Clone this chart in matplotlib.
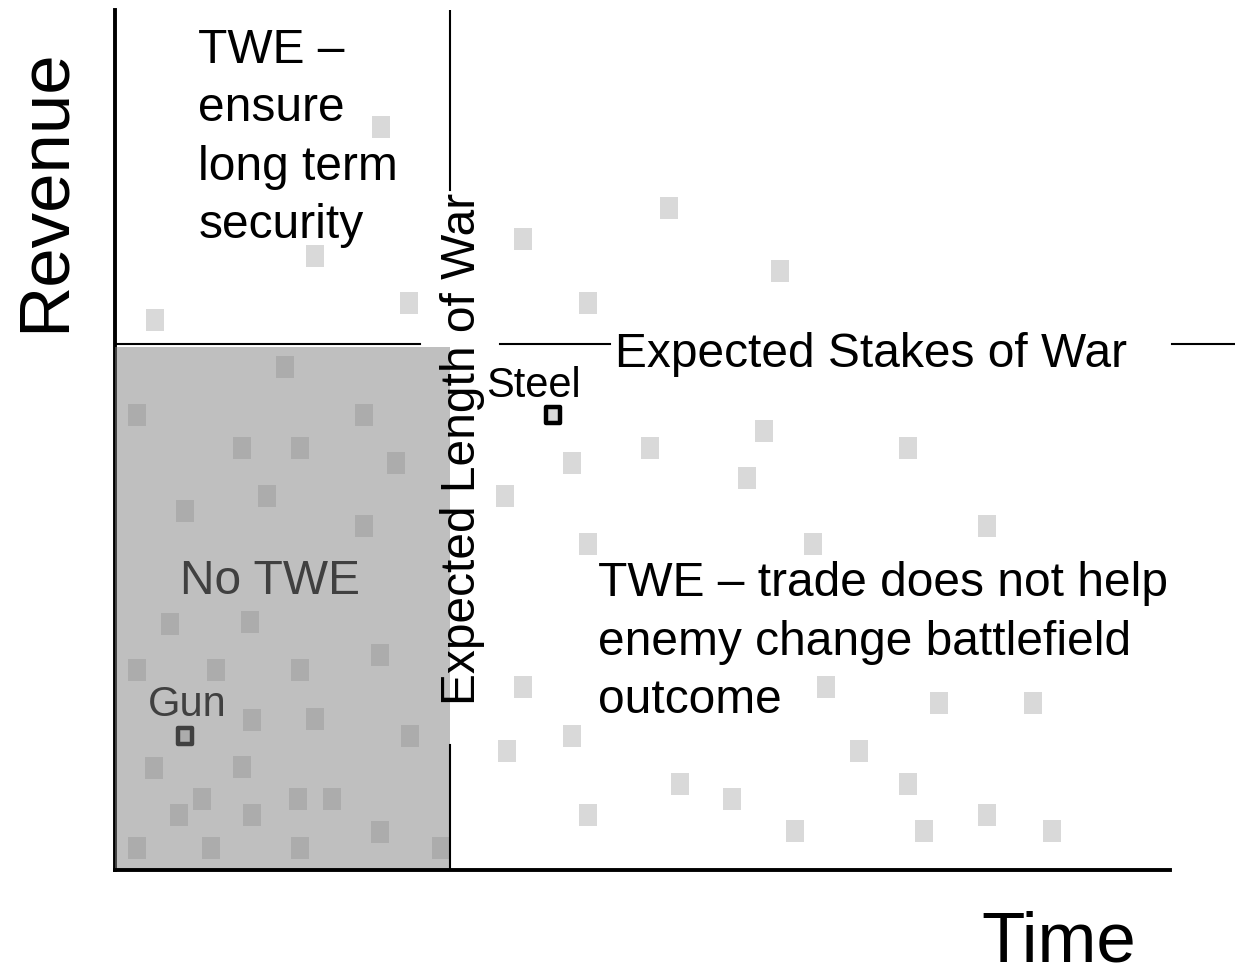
import matplotlib
matplotlib.use('Agg')

import matplotlib.pyplot as plt
from matplotlib.patches import Rectangle
from matplotlib.path import Path

plt.rcParams['font.family'] = ['Liberation Sans', 'DejaVu Sans']

# goods scattered over time (x) and revenue (y), both 0-100
good_x = [25.2, 19.0, 27.9, 3.8,
          52.5, 38.7, 63.0, 44.8,
          50.7, 61.5, 75.2, 43.3, 59.9, 37.0, 82.7, 44.8, 66.2,
          38.7, 67.4, 78.1, 87.0, 43.3, 37.2, 70.5, 53.6, 75.2, 58.5,
          44.8, 82.7, 64.5, 76.7, 88.8,
          16.1, 2.1, 23.6, 12.0, 17.5, 26.6, 14.4, 6.6, 23.6,
          5.2, 12.8, 25.1, 2.1, 9.6, 17.5, 13.0, 19.0, 28.0,
          3.7, 12.0, 8.2, 17.3, 20.6, 6.1, 13.0, 25.1, 2.1, 9.1, 17.5, 30.9]
good_y = [86.4, 71.4, 65.9, 64.0,
          77.0, 73.4, 69.7, 65.9,
          49.1, 51.0, 49.1, 47.3, 45.6, 43.5, 40.0, 37.9, 37.9,
          21.3, 21.3, 19.4, 19.4, 15.6, 13.8, 13.8, 10.0, 10.0, 8.3,
          6.4, 6.4, 4.5, 4.5, 4.5,
          58.5, 52.9, 52.9, 49.1, 49.1, 47.3, 43.5, 41.7, 40.0,
          28.6, 28.8, 25.0, 23.3, 23.3, 23.3, 17.4, 17.6, 15.6,
          11.9, 12.0, 8.3, 8.3, 8.3, 6.4, 6.4, 4.4, 2.6, 2.6, 2.6, 2.6]

# the two named goods
named_labels = ['Gun', 'Steel']
named_x = [6.6, 41.5]
named_y = [15.6, 52.9]

expected_length = 31.8   # time
expected_stakes = 61.2   # revenue

# rectangle marker, a bit taller than wide
box = Path([(-0.45, -0.5), (0.45, -0.5), (0.45, 0.5), (-0.45, 0.5), (-0.45, -0.5)],
           [Path.MOVETO, Path.LINETO, Path.LINETO, Path.LINETO, Path.CLOSEPOLY])

fig = plt.figure(figsize=(12.35, 9.76), dpi=100)
ax = fig.add_axes([115 / 1235, 106 / 976, 1055 / 1235, 860 / 976])
ax.set_xlim(0, 100)
ax.set_ylim(0, 100)
ax.set_xticks([])
ax.set_yticks([])
for side in ['top', 'right']:
    ax.spines[side].set_visible(False)
ax.spines['left'].set_linewidth(2.8)
ax.spines['bottom'].set_linewidth(2.8)
ax.spines['left'].set_zorder(2.5)
ax.spines['bottom'].set_zorder(6)

ax.scatter(good_x, good_y, marker=box, s=230, color='#d9d9d9', linewidths=0, zorder=2)
ax.scatter(named_x, named_y, marker=box, s=120, facecolor='#d9d9d9',
           edgecolor='black', linewidths=3.2, zorder=3)

offsets = {'Gun': (2, 14), 'Steel': (-14, 13)}
for lab, x, y in zip(named_labels, named_x, named_y):
    ax.annotate(lab, (x, y), xytext=offsets[lab], textcoords='offset points',
                ha='center', va='baseline', fontsize=30, color='black', zorder=3)

ax.text(14.7, 32.1, 'No TWE', ha='center', va='baseline', fontsize=34.5, zorder=3)

# shaded "No TWE" region: short war, low stakes (starts a hair left to cover the axis)
ax.add_patch(Rectangle((-0.25, 0), expected_length + 0.25, expected_stakes - 0.4,
                       facecolor='#808080', edgecolor='none', alpha=0.5, zorder=4))

# reference lines, broken where their labels sit
for x0, x1 in [(0, 28.9), (36.5, 46.9), (100.2, 106.2)]:
    ax.plot([x0, x1], [expected_stakes, expected_stakes], color='black', lw=1.5,
            zorder=5, clip_on=False)
for y0, y1 in [(79.1, 100), (0, 14.5)]:
    ax.plot([expected_length, expected_length], [y0, y1], color='black', lw=1.5, zorder=5)

ax.text(47.4, 58.5, 'Expected Stakes of War', ha='left', va='baseline',
        fontsize=34.5, zorder=6)
ax.text(34.1, 19.2, 'Expected Length of War', rotation=90, rotation_mode='anchor',
        ha='left', va='baseline', fontsize=34.5, zorder=6)

ax.text(7.9, 97.9, 'TWE \u2013\nensure\nlong term\nsecurity', ha='left', va='top',
        fontsize=34.5, linespacing=1.38, zorder=6)
ax.text(45.8, 35.9, 'TWE \u2013 trade does not help\nenemy change battlefield\noutcome',
        ha='left', va='top', fontsize=34.5, linespacing=1.38, zorder=6)

fig.text(46 / 1235, (976 - 190) / 976, 'Revenue', rotation=90, ha='center', va='center',
         fontsize=51)
fig.text(1059 / 1235, 0, 'Time', ha='center', va='bottom', fontsize=51)

fig.savefig('out.png', dpi=100, facecolor='white')
